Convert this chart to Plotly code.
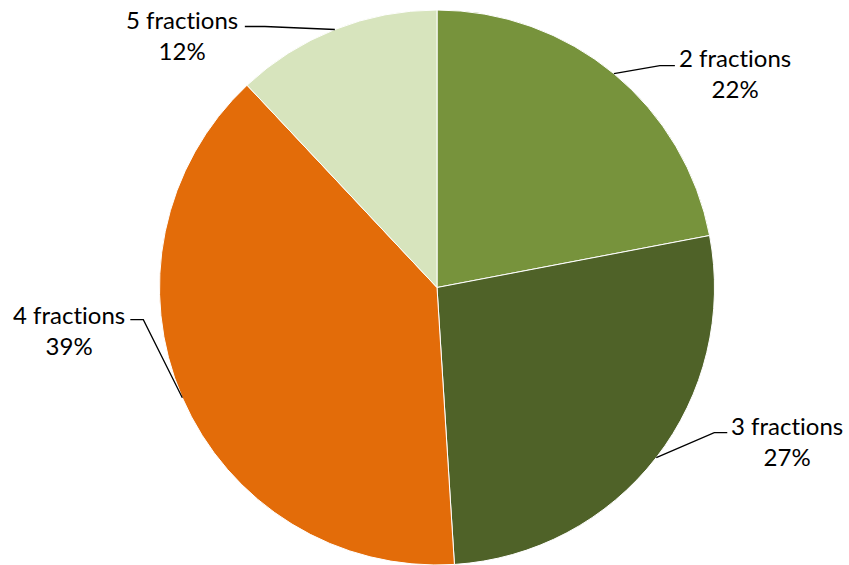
import math
import plotly.graph_objects as go

# Share of plans by number of fractions
labels = ["2 fractions", "3 fractions", "4 fractions", "5 fractions"]
values = [22, 27, 39, 12]
colors = ["#77933C", "#4F6228", "#E36C09", "#D7E4BD"]

# Leader-line layout for each outside label (pixel offsets):
# elbow offset from the slice edge, horizontal tail length, text offset from tail end
elbow_offsets = [(46, -8), (58, -25), (-39, -78), (-70, -3)]
tail_lengths = [15, 13, -13, -20]
text_offsets = [(60, 7), (60, 8), (-61, 10), (-63, 9)]

W, H = 849, 565
CX, CY, R = 437.0, 287.5, 277.5  # pie centre and radius in pixels

fig = go.Figure(
    go.Pie(
        labels=labels,
        values=values,
        marker=dict(colors=colors, line=dict(color="white", width=1)),
        sort=False,
        direction="clockwise",
        rotation=0,
        textinfo="none",
        hoverinfo="label+percent",
        domain=dict(x=[(CX - R) / W, (CX + R) / W], y=[1 - (CY + R) / H, 1 - (CY - R) / H]),
        showlegend=False,
    )
)


def px(x, y):
    return x / W, 1 - y / H


def no_ligature(s):
    # keep "t" and "i" as separate glyphs
    return s.replace("ti", "t\u200ci")


total = sum(values)
cum = 0.0
shapes, annotations = [], []
for lab, v, (ex, ey), tl, (tx, ty) in zip(labels, values, elbow_offsets, tail_lengths, text_offsets):
    mid = (cum + v / 2) / total * 2 * math.pi
    cum += v
    x0, y0 = CX + R * math.sin(mid), CY - R * math.cos(mid)
    x1, y1 = x0 + ex, y0 + ey
    x2, y2 = x1 + tl, y1
    p0, p1, p2 = px(x0, y0), px(x1, y1), px(x2, y2)
    shapes.append(
        dict(
            type="path",
            xref="paper",
            yref="paper",
            path=f"M {p0[0]},{p0[1]} L {p1[0]},{p1[1]} L {p2[0]},{p2[1]}",
            line=dict(color="black", width=1.3),
        )
    )
    ax, ay = px(x2 + tx, y2 + ty)
    annotations.append(
        dict(
            x=ax,
            y=ay,
            xref="paper",
            yref="paper",
            text=f"{no_ligature(lab)}<br>{round(v / total * 100)}%",
            showarrow=False,
            xanchor="center",
            yanchor="middle",
            align="center",
            font=dict(family="Lato, Carlito, sans-serif", size=24, color="black"),
        )
    )

fig.update_layout(
    width=W,
    height=H,
    margin=dict(l=0, r=0, t=0, b=0),
    paper_bgcolor="white",
    plot_bgcolor="white",
    shapes=shapes,
    annotations=annotations,
)

fig.write_html("out.html")
